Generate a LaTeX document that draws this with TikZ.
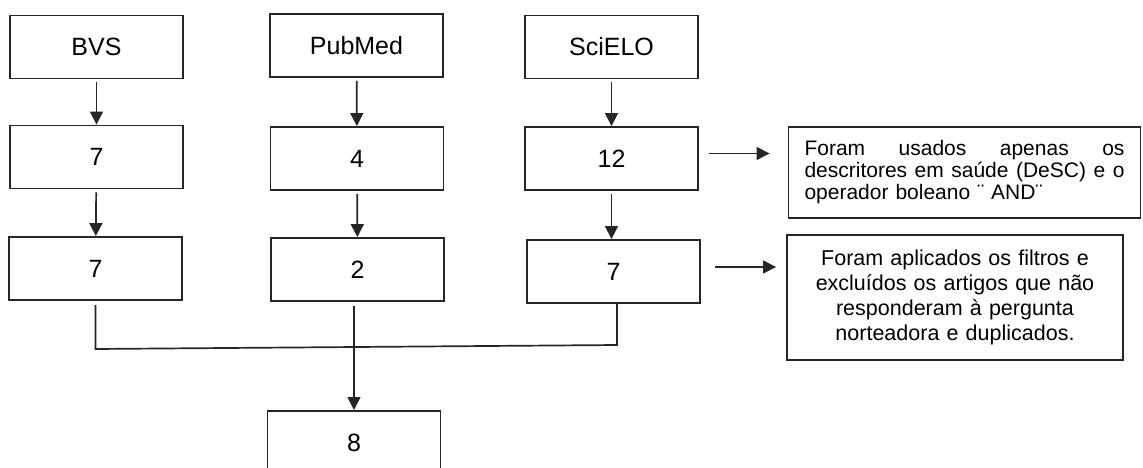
\documentclass[tikz,border=0pt]{standalone}
\usepackage{fontspec}
\setmainfont{Liberation Sans}
\usetikzlibrary{arrows.meta}
\tikzset{
  box/.style={draw=black!85,line width=1.9pt,minimum width=173pt,minimum height=63pt,inner sep=0pt,font=\fontsize{25}{30}\selectfont},
  note/.style={draw=black!85,line width=1.9pt,inner xsep=16pt,inner ysep=0pt},
  flow/.style={->,line width=1.7pt,draw=black!85,>={Triangle[length=13pt,width=13pt]}},
  link/.style={line width=1.7pt,draw=black!85},
}

\begin{document}
\begin{tikzpicture}[x=1pt,y=-1pt]
\clip (0,0) rectangle (1143,468);
% \draw[help lines] (0,0) grid (1143,468);
\node (bvs) [box] at (96.5,47) {BVS};
\node (pub) [box] at (356.5,45.5) {PubMed};
\node (sci) [box] at (611.5,47) {SciELO};
%
\node (b2) [box] at (96.5,157) {7};
\node (p2) [box] at (357,158.5) {4};
\node (s2) [box] at (611.5,158.5) {12};
%
\node (b3) [box] at (95.5,268.5) {7};
\node (p3) [box] at (357.5,269.5) {2};
\node (s3) [box] at (613.5,271.5) {7};
%
\node (res) [box,anchor=north] at (354,410) {8};
%
\node (n1) [note,text width=320pt,minimum height=91pt,align=left,font=\fontsize{21}{22}\selectfont] at (964.5,172.5)
  {\makebox[320pt]{Foram\hfill usados\hfill apenas\hfill os}\\
   \makebox[320pt]{descritores\hfill em\hfill saúde\hfill (DeSC)\hfill e\hfill o}\\
   operador boleano ¨ AND¨};
\node (n2) [note,text width=304pt,minimum height=125pt,align=center,font=\fontsize{21.5}{25}\selectfont] at (955,297.5)
  {Foram aplicados os filtros e\\excluídos os artigos que não\\responderam à pergunta\\norteadora e duplicados.};
%
\draw[flow,shorten <=3pt] (bvs) -- (b2);
\draw[flow,shorten <=3pt] (b2) -- (b3);
\draw[flow,shorten <=3pt] (pub) -- (p2);
\draw[flow,shorten <=3pt] (p2) -- (p3);
\draw[flow,shorten <=3pt] (sci) -- (s2);
\draw[flow,shorten <=3pt] (s2.south) -- (s3.north -| s2.south);
%
\draw[flow,shorten <=10pt,shorten >=18pt] ([yshift=5pt]s2.east) -- ([yshift=5pt]s2.east -| n1.west);
\draw[flow,shorten <=14pt,shorten >=10pt] ([yshift=4.5pt]s3.east) -- ([yshift=4.5pt]s3.east -| n2.west);
%
\coordinate (jl) at (95.5,349);
\coordinate (jr) at (617,345);
\draw[link,shorten <=4pt] (b3.south) -- (jl) -- (jr) -- (jr |- s3.south);
\draw[flow,shorten <=4pt] (p3.south -| res.north) -- (res.north);
\end{tikzpicture}
\end{document}
